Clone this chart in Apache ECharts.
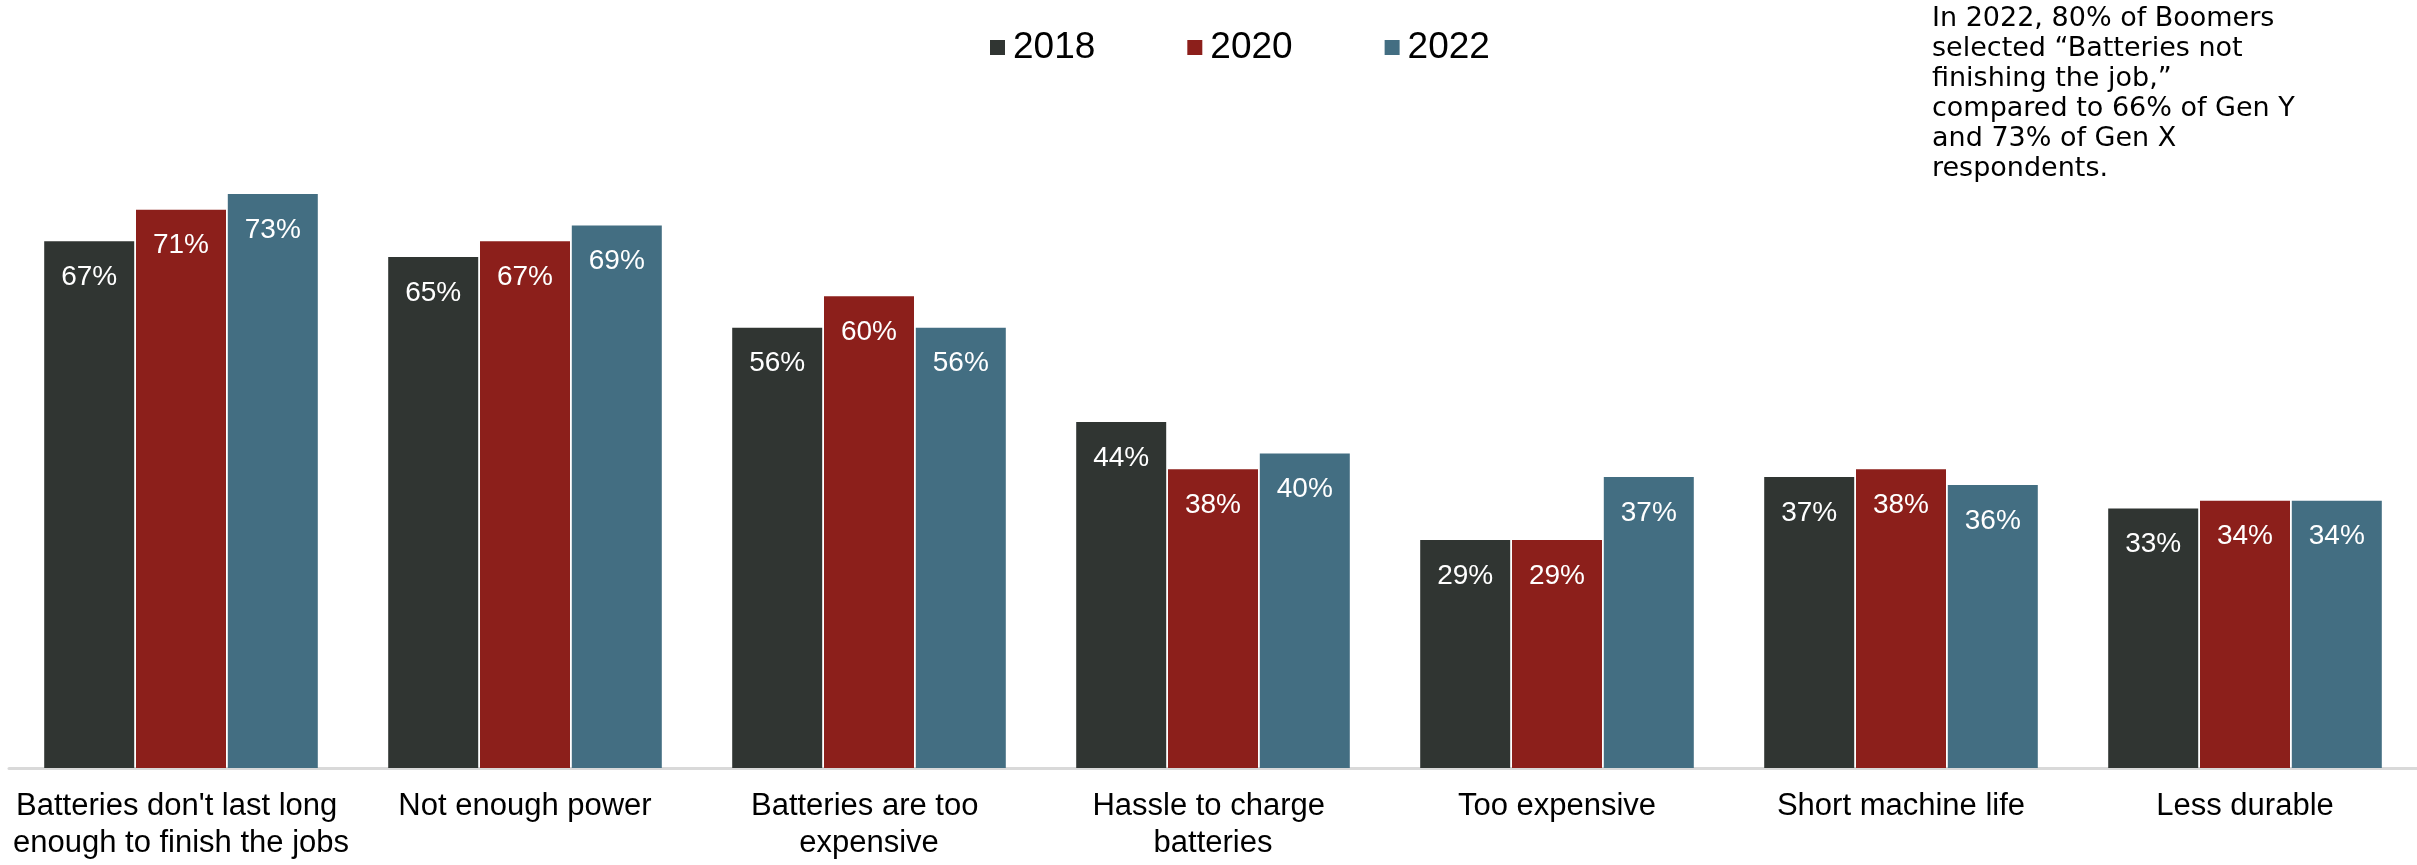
<!DOCTYPE html>
<html>
<head>
<meta charset="utf-8">
<script src="https://cdn.jsdelivr.net/npm/echarts@6/dist/echarts.min.js"></script>
<style>
  html, body { margin: 0; padding: 0; background: #ffffff; }
  #chart { width: 2417px; height: 865px; }
</style>
</head>
<body>
<div id="chart"></div>
<script>
// Reasons cited for battery-powered equipment dissatisfaction, by survey year
const categories = [
  "Batteries don't last long enough to finish the jobs",
  "Not enough power",
  "Batteries are too expensive",
  "Hassle to charge batteries",
  "Too expensive",
  "Short machine life",
  "Less durable"
];
const years = ['2018', '2020', '2022'];
const values2018 = [67, 65, 56, 44, 29, 37, 33];
const values2020 = [71, 67, 60, 38, 29, 38, 34];
const values2022 = [73, 69, 56, 40, 37, 36, 34];
const yearColors = ['#303532', '#8C1F1B', '#436E82'];
const noteLines = [
  'In 2022, 80% of Boomers',
  'selected \u201cBatteries not',
  'finishing the job,\u201d',
  'compared to 66% of Gen Y',
  'and 73% of Gen X',
  'respondents.'
];

const FONT = '"Liberation Sans", Arial, sans-serif';
const seriesValues = [values2018, values2020, values2022];

const chart = echarts.init(document.getElementById('chart'), null, { renderer: 'canvas' });

chart.setOption({
  backgroundColor: '#ffffff',
  animation: false,
  color: yearColors,
  grid: {
    left: 9, right: 0, top: 139, bottom: 97,
    containLabel: false,
    outerBoundsMode: 'none'
  },
  legend: {
    data: years,
    left: 985,
    top: 24,
    icon: 'rect',
    itemWidth: 15,
    itemHeight: 15,
    itemGap: 92,
    textStyle: { fontFamily: FONT, fontSize: 37, color: '#000000', padding: [0, 0, 0, 3] }
  },
  xAxis: {
    type: 'category',
    data: categories,
    axisLine: { show: true, lineStyle: { color: '#D9D9D9', width: 3 } },
    axisTick: { show: false },
    axisLabel: {
      interval: 0,
      margin: 20,
      color: '#000000',
      fontFamily: FONT,
      fontSize: 31,
      lineHeight: 37,
      width: 344,
      overflow: 'break',
      align: 'center'
    }
  },
  yAxis: {
    type: 'value',
    min: 0,
    max: 80,
    show: false,
    splitLine: { show: false }
  },
  series: years.map((y, i) => ({
    name: y,
    type: 'bar',
    data: seriesValues[i],
    barWidth: 90,
    barGap: '2%',
    itemStyle: { color: yearColors[i] },
    label: {
      show: true,
      position: 'insideTop',
      distance: 22,
      color: '#ffffff',
      fontFamily: FONT,
      fontSize: 28,
      formatter: p => p.value + '%'
    }
  })),
  graphic: [{
    type: 'text',
    left: 1932,
    top: 4,
    style: {
      text: noteLines.join('\n'),
      fontFamily: '"DejaVu Sans", sans-serif',
      fontSize: 27,
      lineHeight: 30,
      fill: '#000000'
    }
  }]
});
</script>
</body>
</html>
